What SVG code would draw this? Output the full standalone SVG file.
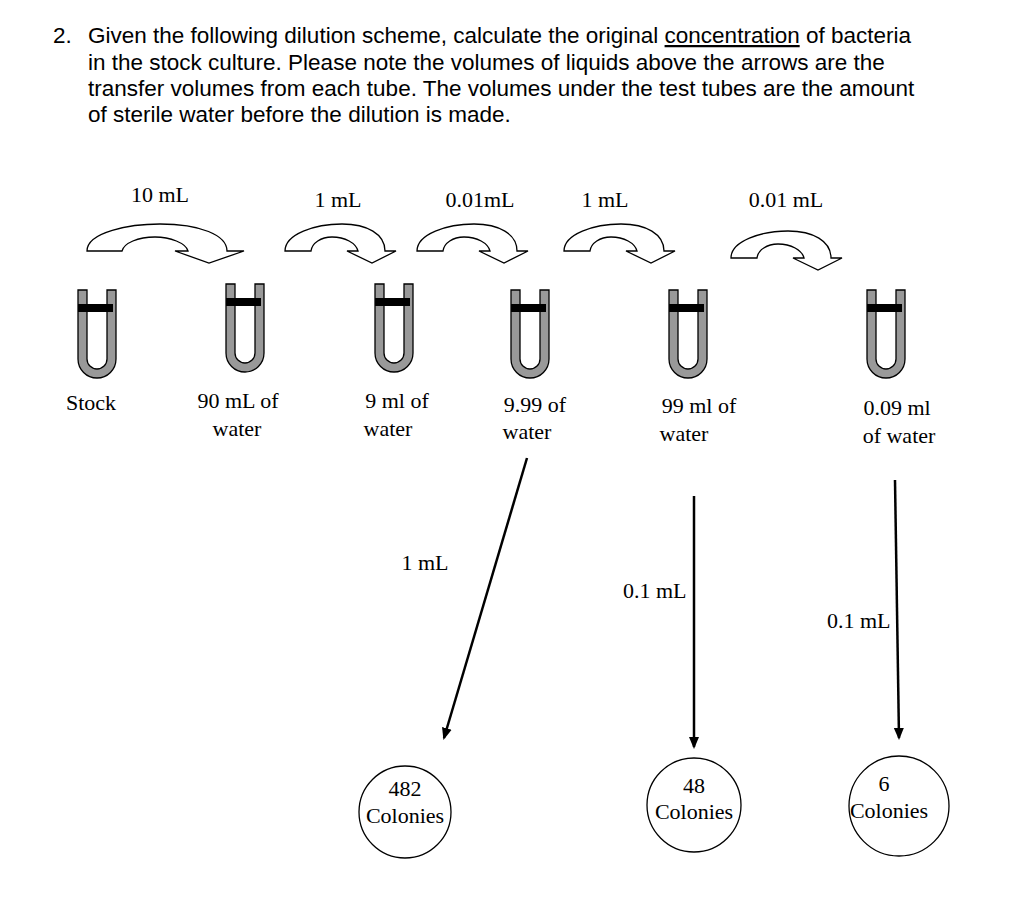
<svg xmlns="http://www.w3.org/2000/svg" width="1024" height="899" viewBox="0 0 1024 899">
<style>
.h{font-family:"Liberation Sans",Arial,sans-serif;font-size:22.5px;fill:#000}
.t{font-family:"Liberation Serif","Times New Roman",serif;font-size:22px;fill:#000}
.m{text-anchor:middle}
.arr{fill:#fff;stroke:#000;stroke-width:1.3}
.tube{fill:#999;stroke:#000;stroke-width:1.3}
.ln{stroke:#000;stroke-width:2.5;fill:none}
.c{fill:#fff;stroke:#000;stroke-width:1.3}
</style>
<defs>
<path id="ca" class="arr" d="M0,0 C0,-17 30,-27 57,-27 C82,-27 100,-17 100,0 L111,0 L87,12 L62,0 L73,0 C71,-8 60,-14 47,-14 C36,-14 27,-8 26,0 Z"/>
<g id="tb"><path class="tube" d="M0,0 H9 V69 A10,10 0 0 0 29,69 V0 H38 V69 A19,19 0 0 1 0,69 Z"/><rect x="0" y="14" width="35" height="8" fill="#000"/></g>
<marker id="ah" markerWidth="12" markerHeight="12" refX="10" refY="6" orient="auto" markerUnits="userSpaceOnUse"><path d="M0,1 L12,6 L0,11 Z" fill="#000"/></marker>
</defs>
<g id="heading">
<text class="h" x="53" y="43">2.</text>
<text class="h" x="88" y="43">Given the following dilution scheme, calculate the original <tspan text-decoration="underline">concentration</tspan> of bacteria</text>
<text class="h" x="88" y="70">in the stock culture. Please note the volumes of liquids above the arrows are the</text>
<text class="h" x="88" y="96">transfer volumes from each tube. The volumes under the test tubes are the amount</text>
<text class="h" x="88" y="122">of sterile water before the dilution is made.</text>
</g>
<g id="transfer-arrows">
<path class="arr" d="M87,251 C87,232 130,224 160,224 C200,224 227,235 227,251 L244,251 L209,263 L175,251 L188,251 C186,243 170,237 155,237 C138,237 124,243 122,251 Z"/>
<use href="#ca" x="285" y="251"/>
<use href="#ca" x="417" y="251"/>
<use href="#ca" x="564" y="251"/>
<use href="#ca" x="731" y="258"/>
<text class="t m" x="160" y="202">10 mL</text>
<text class="t m" x="338" y="207">1 mL</text>
<text class="t m" x="480" y="207">0.01mL</text>
<text class="t m" x="605" y="207">1 mL</text>
<text class="t m" x="786" y="207">0.01 mL</text>
</g>
<g id="tubes">
<use href="#tb" x="78" y="290"/>
<use href="#tb" x="226" y="284"/>
<use href="#tb" x="375" y="284"/>
<use href="#tb" x="511" y="290"/>
<use href="#tb" x="669" y="290"/>
<use href="#tb" x="867" y="290"/>
</g>
<g id="tube-labels">
<text class="t" x="66" y="410">Stock</text>
<text class="t m" x="238" y="408">90 mL of</text><text class="t m" x="237" y="436">water</text>
<text class="t m" x="397" y="408">9 ml of</text><text class="t m" x="388" y="436">water</text>
<text class="t m" x="535" y="412">9.99 of</text><text class="t m" x="527" y="439">water</text>
<text class="t m" x="699" y="413">99 ml of</text><text class="t m" x="684" y="441">water</text>
<text class="t m" x="897" y="415">0.09 ml</text><text class="t m" x="899" y="443">of water</text>
</g>
<g id="connectors">
<line class="ln" x1="527" y1="458" x2="444" y2="738" marker-end="url(#ah)"/>
<line class="ln" x1="694" y1="496" x2="694" y2="747" marker-end="url(#ah)"/>
<line class="ln" x1="895" y1="480" x2="899" y2="738" marker-end="url(#ah)"/>
<text class="t m" x="425" y="570">1 mL</text>
<text class="t" x="623" y="598">0.1 mL</text>
<text class="t" x="827" y="628">0.1 mL</text>
</g>
<g id="plate1"><circle class="c" cx="405" cy="812" r="46"/><text class="t m" x="405" y="796">482</text><text class="t m" x="405" y="823">Colonies</text></g>
<g id="plate2"><circle class="c" cx="694" cy="805" r="47"/><text class="t m" x="694" y="793">48</text><text class="t m" x="694" y="819">Colonies</text></g>
<g id="plate3"><circle class="c" cx="899" cy="806" r="50"/><text class="t m" x="884" y="791">6</text><text class="t m" x="889" y="818">Colonies</text></g>
</svg>
